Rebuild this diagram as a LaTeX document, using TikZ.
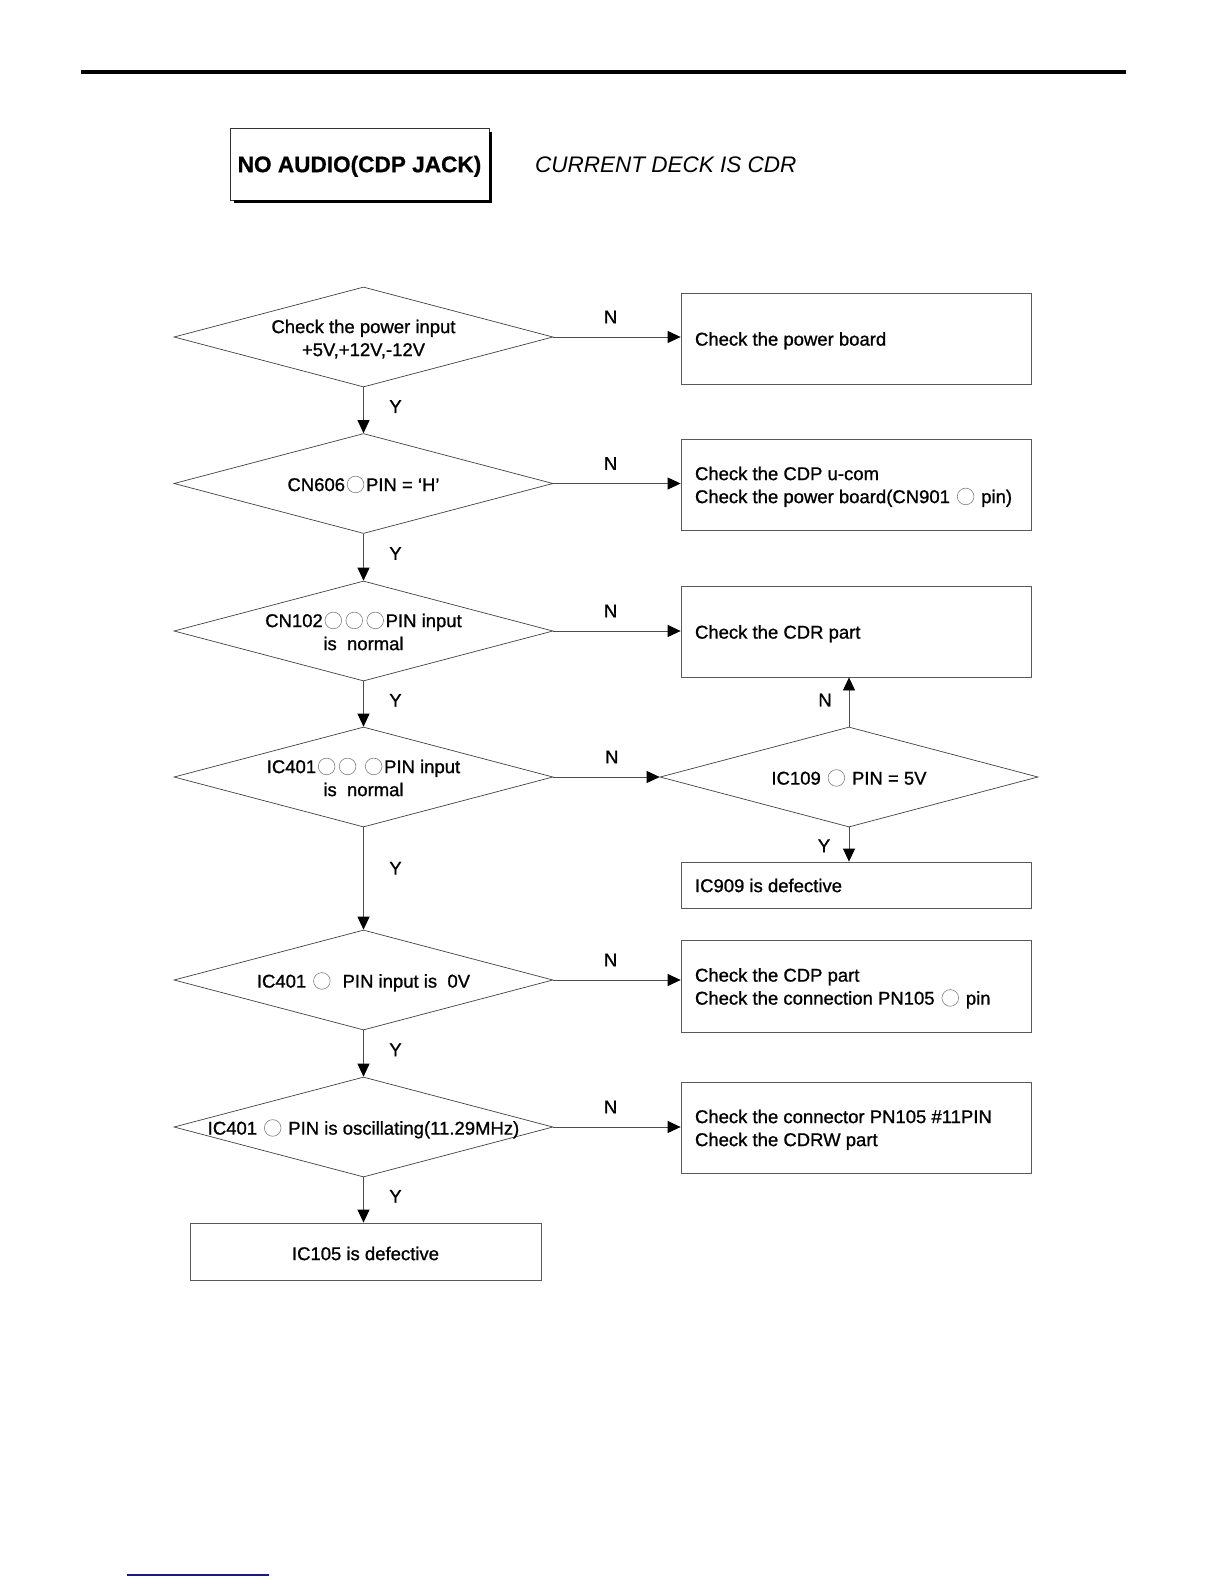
\documentclass[tikz,border=0pt]{standalone}
\usepackage{fontspec}
\setmainfont{Liberation Sans}
\newfontfamily\dkfont{Liberation Sans}[FakeBold=1.0,Ligatures=TeX]
\newfontfamily\ttlfont{Liberation Sans Bold}[FakeBold=0.8]
\usetikzlibrary{shapes.geometric,arrows.meta}
\newcommand\pinc{\hspace{0.1em}\tikz[x=1cm,y=1cm,baseline=0pt]\draw[black!50,line width=0.6pt] (0,0.36em) circle (0.45em);\hspace{0.1em}}
\newcommand\dtext[1]{\raisebox{-3pt}[\height][\depth]{\makebox[0pt]{\begin{tabular}{c}#1\end{tabular}}}}
\newcommand\btext[1]{\raisebox{-2.5pt}[\height][\depth]{\makebox[322pt][l]{\begin{tabular}{@{}l@{}}#1\end{tabular}}}}
\begin{document}
\begin{tikzpicture}[x=1pt,y=-1pt,
  font=\dkfont\fontsize{18.5}{23}\selectfont,
  dia/.style={draw=black!75, line width=0.7pt, shape=diamond, minimum width=379pt, minimum height=100pt, inner sep=0pt},
  box/.style={draw=black!65, line width=0.8pt, rectangle, minimum width=350pt, inner xsep=14pt, inner ysep=0pt},
  arr/.style={draw=black!70, line width=0.8pt, -{Triangle[length=13pt,width=12pt,color=black]}},
  lab/.style={inner sep=0pt}]
\useasboundingbox (0,0) rectangle (1224,1584);
% page rules
\draw[line width=3.5pt] (81,72) -- (1126,72);
\draw[line width=1.2pt, color={rgb,255:red,25;green,25;blue,130}] (127,1575) -- (269,1575);
% title
\node[draw=black!80, line width=0.8pt, minimum width=259pt, minimum height=72pt, inner sep=0pt, text depth=0pt,
      font=\ttlfont\fontsize{22.6}{27}\selectfont] (title) at (359.5,164) {NO AUDIO(CDP JACK)};
\draw[line width=2.5pt] ([shift={(1.25,4)}]title.north east) -- ([shift={(1.25,1.25)}]title.south east) -- ([shift={(4,1.25)}]title.south west);
\node[font=\rmfamily\fontsize{22.5}{27}\selectfont\itshape, anchor=west, inner sep=0pt, text depth=0pt] (deck) at (535,165) {CURRENT DECK IS CDR};
% decisions
\node[dia] (d1) at (363.5,337) {\dtext{Check the power input\\+5V,+12V,-12V}};
\node[dia] (d2) at (363.5,483.5) {\dtext{CN606\pinc PIN = ‘H’}};
\node[dia] (d3) at (363.5,631) {\dtext{CN102\pinc\pinc\pinc PIN input\\is\ \ normal}};
\node[dia] (d4) at (363.5,777) {\dtext{IC401\pinc\pinc\ \pinc PIN input\\is\ \ normal}};
\node[dia] (d5) at (363.5,980) {\dtext{IC401 \pinc\ \ PIN input is\ \ 0V}};
\node[dia] (d6) at (363.5,1127) {\dtext{IC401 \pinc\ PIN is oscillating(11.29MHz)}};
\node[dia, minimum width=378pt] (d7) at (849,777) {\dtext{IC109 \pinc\ PIN = 5V}};
% boxes
\node[box, minimum height=91pt] (b1) at (856,338.5) {\btext{Check the power board}};
\node[box, minimum height=91pt] (b2) at (856,484.5) {\btext{Check the CDP u-com\\Check the power board(CN901 \pinc\ pin)}};
\node[box, minimum height=91pt] (b3) at (856,631.5) {\btext{Check the CDR part}};
\node[box, minimum height=46pt] (b4) at (856,885) {\btext{IC909 is defective}};
\node[box, minimum height=92pt] (b5) at (856,986) {\btext{Check the CDP part\\Check the connection PN105 \pinc\ pin}};
\node[box, minimum height=91pt] (b6) at (856,1127.5) {\btext{Check the connector PN105 \#11PIN\\Check the CDRW part}};
\node[box, minimum width=351pt, minimum height=57pt, inner xsep=0pt] (b7) at (365.5,1251.5) {\raisebox{-2pt}[\height][\depth]{IC105 is defective}};
% N connectors
\draw[arr] (d1.east) -- (d1.east -| b1.west) node[lab, pos=0.45, yshift=20pt] {N};
\draw[arr] (d2.east) -- (d2.east -| b2.west) node[lab, pos=0.45, yshift=20pt] {N};
\draw[arr] (d3.east) -- (d3.east -| b3.west) node[lab, pos=0.45, yshift=20pt] {N};
\draw[arr] (d4.east) -- (d7.west) node[lab, pos=0.55, yshift=20pt] {N};
\draw[arr] (d5.east) -- (d5.east -| b5.west) node[lab, pos=0.45, yshift=20pt] {N};
\draw[arr] (d6.east) -- (d6.east -| b6.west) node[lab, pos=0.45, yshift=20pt] {N};
\draw[arr] (d7.north) -- (d7.north |- b3.south) node[lab, pos=0.54, xshift=-24pt] {N};
% Y connectors
\draw[arr] (d1.south) -- (d2.north) node[lab, pos=0.42, xshift=32pt] {Y};
\draw[arr] (d2.south) -- (d3.north) node[lab, pos=0.42, xshift=32pt] {Y};
\draw[arr] (d3.south) -- (d4.north) node[lab, pos=0.42, xshift=32pt] {Y};
\draw[arr] (d4.south) -- (d5.north) node[lab, pos=0.40, xshift=32pt] {Y};
\draw[arr] (d5.south) -- (d6.north) node[lab, pos=0.42, xshift=32pt] {Y};
\draw[arr] (d6.south) -- (d6.south |- b7.north) node[lab, pos=0.42, xshift=32pt] {Y};
\draw[arr] (d7.south) -- (d7.south |- b4.north) node[lab, pos=0.54, xshift=-25pt] {Y};
\end{tikzpicture}
\end{document}
